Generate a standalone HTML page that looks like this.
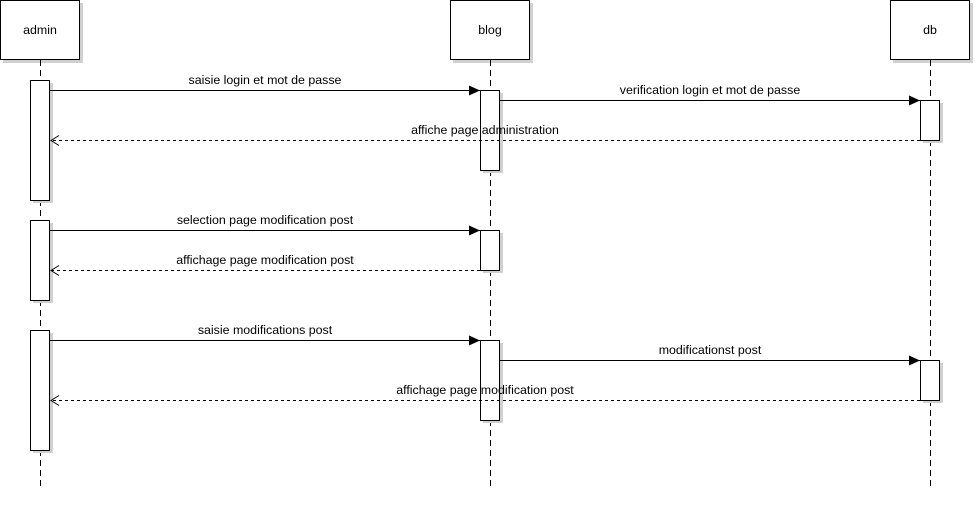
<!DOCTYPE html>
<html><head><meta charset="utf-8"><style>
html,body{margin:0;padding:0;background:#fff;}
svg{display:block;}
text{font-family:"Liberation Sans",Arial,sans-serif;font-size:12.4px;fill:#000;}
</style></head><body>
<svg width="975" height="505" viewBox="0 0 975 505" xmlns="http://www.w3.org/2000/svg">
<defs>
<marker id="fa" markerWidth="12" markerHeight="10" refX="11" refY="5" orient="auto" markerUnits="userSpaceOnUse"><path d="M0,0 L11,5 L0,10 Z" fill="#000"/></marker>
<marker id="oa" markerWidth="12" markerHeight="12" refX="9" refY="6" orient="auto" markerUnits="userSpaceOnUse"><path d="M1,1 L9,6 L1,11" fill="none" stroke="#000" stroke-width="1"/></marker>
</defs>
<g fill="#d0d0d0">
<rect x="3" y="3" width="80" height="60"/><rect x="453" y="3" width="80" height="60"/><rect x="893" y="3" width="80" height="60"/>
</g>
<g stroke="#000" stroke-width="1" fill="#fff">
<rect x="0.5" y="0.5" width="79" height="59"/><rect x="450.5" y="0.5" width="79" height="59"/><rect x="890.5" y="0.5" width="79" height="59"/>
</g>
<text x="40" y="34" text-anchor="middle">admin</text>
<text x="490" y="34" text-anchor="middle">blog</text>
<text x="930" y="34" text-anchor="middle">db</text>
<g stroke="#000" stroke-dasharray="6,4">
<line x1="40.5" y1="60" x2="40.5" y2="486"/><line x1="490.5" y1="60" x2="490.5" y2="486"/><line x1="930.5" y1="60" x2="930.5" y2="486"/>
</g>
<g fill="#d0d0d0">
<rect x="33" y="83" width="20" height="120"/><rect x="33" y="223" width="20" height="80"/><rect x="33" y="333" width="20" height="120"/>
<rect x="483" y="93" width="20" height="80"/><rect x="483" y="233" width="20" height="40"/><rect x="483" y="343" width="20" height="80"/>
<rect x="923" y="103" width="20" height="40"/><rect x="923" y="363" width="20" height="40"/>
</g>
<g stroke="#000" fill="#fff">
<rect x="30.5" y="80.5" width="19" height="120"/><rect x="30.5" y="220.5" width="19" height="80"/><rect x="30.5" y="330.5" width="19" height="120"/>
<rect x="480.5" y="90.5" width="19" height="80"/><rect x="480.5" y="230.5" width="19" height="40"/><rect x="480.5" y="340.5" width="19" height="80"/>
<rect x="920.5" y="100.5" width="19" height="40"/><rect x="920.5" y="360.5" width="19" height="40"/>
</g>
<g stroke="#000" fill="none">
<line x1="50" y1="90.5" x2="480" y2="90.5" marker-end="url(#fa)"/>
<line x1="500" y1="100.5" x2="920" y2="100.5" marker-end="url(#fa)"/>
<line x1="920" y1="140.5" x2="51" y2="140.5" stroke-dasharray="3,3" marker-end="url(#oa)"/>
<line x1="50" y1="230.5" x2="480" y2="230.5" marker-end="url(#fa)"/>
<line x1="480" y1="270.5" x2="51" y2="270.5" stroke-dasharray="3,3" marker-end="url(#oa)"/>
<line x1="50" y1="340.5" x2="480" y2="340.5" marker-end="url(#fa)"/>
<line x1="500" y1="360.5" x2="920" y2="360.5" marker-end="url(#fa)"/>
<line x1="920" y1="400.5" x2="51" y2="400.5" stroke-dasharray="3,3" marker-end="url(#oa)"/>
</g>
<text x="265" y="84" text-anchor="middle">saisie login et mot de passe</text>
<text x="710" y="94" text-anchor="middle">verification login et mot de passe</text>
<text x="485" y="134" text-anchor="middle">affiche page administration</text>
<text x="265" y="224" text-anchor="middle">selection page modification post</text>
<text x="265" y="264" text-anchor="middle">affichage page modification post</text>
<text x="265" y="334" text-anchor="middle">saisie modifications post</text>
<text x="710" y="354" text-anchor="middle">modificationst post</text>
<text x="485" y="394" text-anchor="middle">affichage page modification post</text>
</svg>
</body></html>
